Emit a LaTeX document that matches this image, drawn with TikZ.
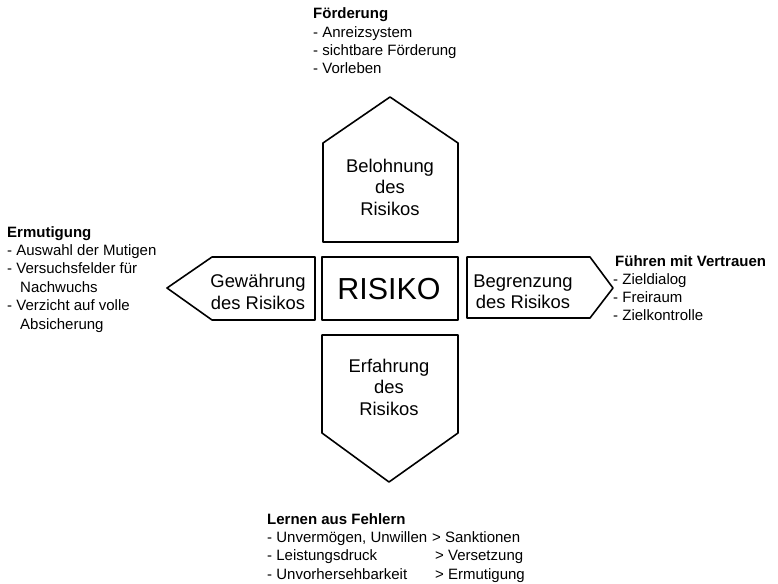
\documentclass[tikz,border=0pt]{standalone}
\usepackage{fontspec}
\setmainfont{Liberation Sans}
\usepackage{tikz}
\tikzset{
	lst/.style={anchor=base west,inner sep=0pt,font=\fontsize{15}{18}\selectfont},
	hd/.style={lst,font=\fontsize{15}{18}\selectfont\bfseries},
	boxtxt/.style={align=center,inner sep=0pt,font=\fontsize{18.4}{21.5}\selectfont},
	shp/.style={line width=1.6pt}
}

\begin{document}
\begin{tikzpicture}[line cap=round,line join=round,x=1pt,y=-1pt]
	\useasboundingbox (0,0) rectangle (778,583);
	% the five shapes
	\draw[shp] (323,242) -- (323,143) -- (390,97) -- (458,143) -- (458,242) -- cycle;
	\draw[shp] (322,257) rectangle (458,320);
	\draw[shp] (315,257) -- (212,257) -- (167,288) -- (212,320) -- (315,320) -- cycle;
	\draw[shp] (467,257) -- (590,257) -- (613,288) -- (590,318) -- (467,318) -- cycle;
	\draw[shp] (322,335) -- (458,335) -- (458,433) -- (389,482) -- (322,433) -- cycle;
	% texts in the shapes
	\node[boxtxt] (bel) at (390,187) {Belohnung\\des\\Risikos};
	\node[boxtxt] (gew) at (258,292) {Gewährung\\des Risikos};
	\node[inner sep=0pt,font=\fontsize{30.4}{34}\selectfont] (ris) at (389,289) {RISIKO};
	\node[boxtxt] (beg) at (523,292) {Begrenzung\\des Risikos};
	\node[boxtxt] (erf) at (389,387) {Erfahrung\\des\\Risikos};
	% top list
	\node[hd] (foe0) at (313,19) {Förderung};
	\foreach \t [count=\i] in {{- Anreizsystem},{- sichtbare Förderung},{- Vorleben}}
	\node[lst] (foe\i) at (313,19+18.3*\i) {\t};
	% left list
	\node[hd] (erm0) at (7,237) {Ermutigung};
	\foreach \x/\t [count=\i] in {7/{- Auswahl der Mutigen},7/{- Versuchsfelder für},20/{Nachwuchs},7/{- Verzicht auf volle},20/{Absicherung}}
	\node[lst] (erm\i) at (\x,237+18.4*\i) {\t};
	% right list
	\node[hd] (fue0) at (615,266) {Führen mit Vertrauen};
	\foreach \t [count=\i] in {{- Zieldialog},{- Freiraum},{- Zielkontrolle}}
	\node[lst] (fue\i) at (613,266+18.3*\i) {\t};
	% bottom list
	\node[hd] (ler0) at (267,524) {Lernen aus Fehlern};
	\node[lst] (ler1) at (267,542) {- Unvermögen, Unwillen};
	\node[lst] (ler2) at (267,560) {- Leistungsdruck};
	\node[lst] (ler3) at (267,579) {- Unvorhersehbarkeit};
	\node[lst] (fol1) at (432,542) {> Sanktionen};
	\node[lst] (fol2) at (435,560) {> Versetzung};
	\node[lst] (fol3) at (435,579) {> Ermutigung};
\end{tikzpicture}
\end{document}
